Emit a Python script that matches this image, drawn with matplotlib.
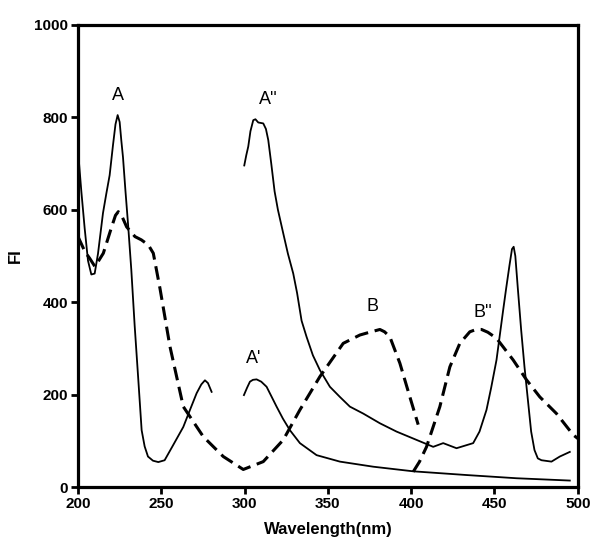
import numpy as np
from matplotlib import pyplot as plt

plt.rcParams["font.family"] = ["Liberation Sans", "DejaVu Sans"]

# solid curve A (excitation 200-280 nm)
a_x = [200, 202, 204, 206, 208, 210, 212, 215, 217, 219, 221, 222.5, 223.8, 225, 226,
       227, 228.5, 230, 232, 234, 236.2, 238.2, 240, 242, 245, 248.2, 252, 257,
       263.2, 267, 271.2, 274, 276.2, 278, 280.2]
a_y = [729, 640, 560, 490, 460, 462, 505, 593, 635, 675, 740, 785, 805, 790, 750,
       714, 640, 571, 470, 350, 232, 123, 88, 66, 57, 54, 58, 90,
       130, 165, 203, 222, 231, 225, 206]

# dashed curve (excitation 200-405 nm, B)
ex_x = [200, 204.2, 207, 210.2, 215.2, 220.2, 222.5, 224.2, 226.5, 229.2, 234.2, 238,
        242.2, 245.2, 249.2, 255.2, 263.2, 275.2, 287.2, 299.2, 311.2, 323.2, 333.2,
        345.2, 359.2, 369.2, 375, 381.2, 384, 387.2, 393.2, 399.2, 404.2]
ex_y = [542, 509, 495, 477, 506, 563, 588, 596, 585, 563, 542, 535,
        524, 506, 430, 304, 174, 109, 66, 38, 55, 102, 167,
        239, 311, 329, 335, 341, 336, 325, 268, 195, 135]

# dashed curve B''
bb_x = [401.2, 405, 409.2, 417.2, 423.2, 429.2, 435.2, 439, 442.2, 446, 451.2, 461.2,
        469.2, 477.2, 487.2, 497.2, 500]
bb_y = [33, 55, 87, 174, 260, 311, 336, 341, 341, 335, 322, 275,
        232, 195, 159, 113, 105]

# solid curve A'
ap_x = [299.6, 301.5, 303.2, 305, 307.2, 310, 313.2, 316, 319.2, 323, 327.2, 333.2,
        343.2, 357.2, 377.2, 401.2, 433, 463.2, 495.2]
ap_y = [199, 215, 228, 232, 233, 228, 217, 197, 174, 148, 123, 95,
        69, 55, 44, 34, 26, 19, 14]

# solid curve A''
app_x = [299.8, 301, 302.2, 303.5, 305.2, 306.5, 308.2, 311.2, 312.8, 314.2, 316, 318,
         320, 323.2, 326, 329.2, 331.5, 334.2, 337.2, 341, 345.2, 351.2, 357.2, 363.2,
         371.2, 381.2, 391.2, 401.2, 413.2, 419.2, 427.2, 437.2, 441, 445.2, 448,
         451.2, 455.2, 457, 459, 460.5, 461.5, 462.5, 464, 466, 468, 470, 472, 474,
         476, 478.2, 484.2, 489.2, 495.2]
app_y = [696, 718, 737, 770, 794, 796, 789, 787, 775, 751, 700, 640,
         600, 549, 505, 462, 420, 360, 325, 285, 253, 217, 195, 174,
         159, 138, 120, 105, 87, 95, 84, 95, 120, 167, 215,
         275, 383, 430, 480, 515, 520, 500, 430, 340, 260, 190, 120, 80,
         62, 58, 55, 66, 76]

labels = ["A", "A''", "A'", "B", "B''"]
label_x = [224, 314, 305.6, 377, 443]
label_y = [847, 838, 279, 390, 377]

fig = plt.figure(figsize=(6, 5.53), dpi=100)
ax = fig.add_axes([0.13, 0.1193, 0.833, 0.8355])

ax.plot(a_x, a_y, color="black", lw=1.3)
ax.plot(ap_x, ap_y, color="black", lw=1.3)
ax.plot(app_x, app_y, color="black", lw=1.3)
ax.plot(ex_x, ex_y, color="black", lw=2.2, dashes=(4.5, 2.2))
ax.plot(bb_x, bb_y, color="black", lw=2.2, dashes=(4.5, 2.2))

for t, x, y in zip(labels, label_x, label_y):
    ax.text(x, y, t, ha="center", va="center", fontsize=13)

ax.set_xlim(200, 500)
ax.set_ylim(0, 1000)
ax.set_xticks(np.arange(200, 501, 50))
ax.set_yticks(np.arange(0, 1001, 200))
for s in ax.spines.values():
    s.set_linewidth(2.3)
ax.tick_params(direction="out", length=5, width=2, labelsize=11, pad=2)
for lab in ax.get_xticklabels() + ax.get_yticklabels():
    lab.set_fontweight("bold")
ax.set_xlabel("Wavelength(nm)", fontsize=12, fontweight="bold", labelpad=8)
ax.set_ylabel("FI", fontsize=12, fontweight="bold")
ax.yaxis.set_label_coords(-0.11, 0.5)

plt.savefig("out.png", dpi=100)
